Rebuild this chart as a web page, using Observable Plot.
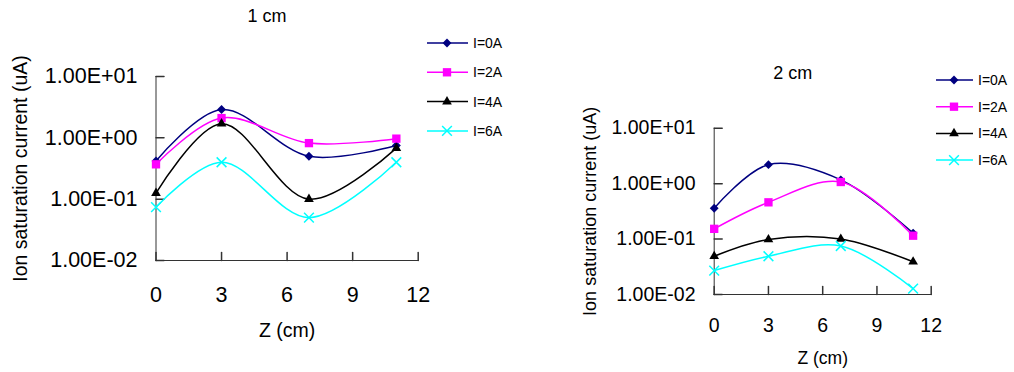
<!DOCTYPE html>
<html><head><meta charset="utf-8">
<script src="https://cdn.jsdelivr.net/npm/d3@7"></script>
<script src="https://cdn.jsdelivr.net/npm/@observablehq/plot@0.6"></script>
<style>
body{margin:0;background:#fff;font-family:"Liberation Sans",Arial,sans-serif;}
#wrap{position:relative;width:1014px;height:372px;overflow:hidden;background:#fff;}
#wrap > *{position:absolute;}
</style></head><body><div id="wrap"></div>
<script>
// ---- data ----
const zValues = [0, 3, 7, 11];
const seriesNames = ["I=0A", "I=2A", "I=4A", "I=6A"];
const cm1_I0 = [0.42, 2.9, 0.50, 0.75];
const cm1_I2 = [0.37, 2.1, 0.82, 0.97];
const cm1_I4 = [0.125, 1.7, 0.10, 0.68];
const cm1_I6 = [0.074, 0.40, 0.05, 0.40];
const cm2_I0 = [0.36, 2.2, 1.17, 0.128];
const cm2_I2 = [0.153, 0.46, 1.07, 0.115];
const cm2_I4 = [0.049, 0.098, 0.10, 0.039];
const cm2_I6 = [0.027, 0.049, 0.075, 0.0128];
const xTicks = [0, 3, 6, 9, 12];
const yTicks = [0.01, 0.1, 1, 10];
const panelTitles = ["1 cm", "2 cm"];
const xLabel = "Z (cm)";
const yLabel = "Ion saturation current (uA)";

// ---- styles ----
const seriesStyle = [
  {color: "#000080", symbol: "diamond2", r: 4.0, filled: true},
  {color: "#FF00FF", symbol: "square", r: 4.7, filled: true},
  {color: "#000000", symbol: "triangle", r: 3.6, filled: true},
  {color: "#00FFFF", symbol: "times", r: 4.5, filled: false}
];
const symbolMap = {diamond2: d3.symbolDiamond2, square: d3.symbolSquare, triangle: d3.symbolTriangle, times: d3.symbolTimes};
const FONT = '"Liberation Sans", Arial, sans-serif';
const AXIS = "#333";

function fmtE(d) {
  const [m, e] = d.toExponential(2).split("e");
  const n = +e;
  return m + "E" + (n < 0 ? "-" : "+") + String(Math.abs(n)).padStart(2, "0");
}

const tickShape = {draw(ctx, l) { ctx.moveTo(0, 0); ctx.lineTo(0, -l); }};

function panel(cfg, values) {
  const marks = [
    Plot.frame({anchor: "left", stroke: AXIS}),
    Plot.frame({anchor: "bottom", stroke: AXIS}),
    Plot.vector(yTicks, {y: d => d, frameAnchor: "left", length: 8, rotate: 90, anchor: "start", shape: tickShape, stroke: AXIS}),
    Plot.vector(xTicks, {x: d => d, frameAnchor: "bottom", length: 8, rotate: 0, anchor: "start", shape: tickShape, stroke: AXIS}),
    Plot.axisY({ticks: yTicks, tickSize: 0, tickPadding: cfg.yPad, tickFormat: fmtE, fontSize: cfg.tickFont, label: null}),
    Plot.axisX({ticks: xTicks, tickSize: 0, tickPadding: cfg.xPad, fontSize: cfg.tickFont, label: null}),
    Plot.text([yLabel], {frameAnchor: "left", rotate: -90, dx: cfg.ylabDx, textAnchor: "middle", lineAnchor: "middle", text: d => d, fontSize: cfg.ylabFont}),
    Plot.text([xLabel], {frameAnchor: "bottom", dy: cfg.xlabDy, textAnchor: "middle", lineAnchor: "middle", text: d => d, fontSize: cfg.xlabFont}),
    Plot.text([cfg.title], {frameAnchor: "top", dx: cfg.titleDx, dy: cfg.titleDy, textAnchor: "middle", lineAnchor: "middle", text: d => d, fontSize: cfg.titleFont})
  ];
  values.forEach((arr, si) => {
    const st = seriesStyle[si];
    const rows = arr.map((v, i) => ({z: zValues[i], v}));
    marks.push(Plot.line(rows, {x: "z", y: "v", curve: "catmull-rom", stroke: st.color, strokeWidth: 1.5}));
  });
  values.forEach((arr, si) => {
    const st = seriesStyle[si];
    const rows = arr.map((v, i) => ({z: zValues[i], v}));
    marks.push(Plot.dot(rows, {x: "z", y: "v", symbol: st.symbol, r: st.r,
      fill: st.filled ? st.color : "none", stroke: st.filled ? "none" : st.color, strokeWidth: 1.5}));
  });
  const svg = Plot.plot({
    width: cfg.w, height: cfg.h,
    marginLeft: cfg.ml, marginRight: cfg.mr, marginTop: cfg.mt, marginBottom: cfg.mb,
    x: {domain: [0, 12]},
    y: {type: "log", domain: [0.01, 10]},
    style: {fontFamily: FONT, color: "#000", background: "transparent", overflow: "visible"},
    marks
  });
  svg.style.left = cfg.left + "px";
  svg.style.top = "0px";
  return svg;
}

function legend(cfg) {
  const svg = d3.create("svg").attr("width", cfg.w).attr("height", cfg.h)
    .style("left", cfg.left + "px").style("top", cfg.top + "px");
  seriesNames.forEach((name, i) => {
    const st = seriesStyle[i];
    const y = 10 + i * cfg.gap;
    svg.append("line").attr("x1", 2).attr("x2", cfg.lineEnd).attr("y1", y).attr("y2", y)
      .attr("stroke", st.color).attr("stroke-width", 1.5);
    svg.append("path").attr("transform", `translate(${cfg.marker},${y})`)
      .attr("d", d3.symbol(symbolMap[st.symbol], st.r * st.r * Math.PI)())
      .attr("fill", st.filled ? st.color : "none").attr("stroke", st.filled ? "none" : st.color).attr("stroke-width", 1.5);
    svg.append("text").attr("x", cfg.textX).attr("y", y).attr("dy", "0.35em")
      .attr("font-family", FONT).attr("font-size", cfg.font).attr("fill", "#000").text(name);
  });
  return svg.node();
}

const wrap = document.getElementById("wrap");
wrap.appendChild(panel({
  left: 0, w: 500, h: 372, ml: 155.5, mr: 82.3, mt: 76, mb: 112,
  yPad: 18.5, xPad: 26, tickFont: 21.5, ylabFont: 19.5, ylabDx: -135.5,
  xlabFont: 19.5, xlabDy: 70, title: panelTitles[0], titleFont: 18, titleDx: -20, titleDy: -60
}, [cm1_I0, cm1_I2, cm1_I4, cm1_I6]));
wrap.appendChild(panel({
  left: 500, w: 514, h: 372, ml: 213.7, mr: 83.3, mt: 127.7, mb: 78,
  yPad: 18.7, xPad: 24, tickFont: 19.5, ylabFont: 18, ylabDx: -123.7,
  xlabFont: 17.5, xlabDy: 64, title: panelTitles[1], titleFont: 18, titleDx: -30, titleDy: -55
}, [cm2_I0, cm2_I2, cm2_I4, cm2_I6]));
wrap.appendChild(legend({left: 425, top: 33, w: 89, h: 120, gap: 29.3, lineEnd: 43, marker: 22, textX: 48, font: 14}));
wrap.appendChild(legend({left: 934, top: 70, w: 80, h: 110, gap: 26.7, lineEnd: 39, marker: 20, textX: 44, font: 14}));
</script></body></html>
